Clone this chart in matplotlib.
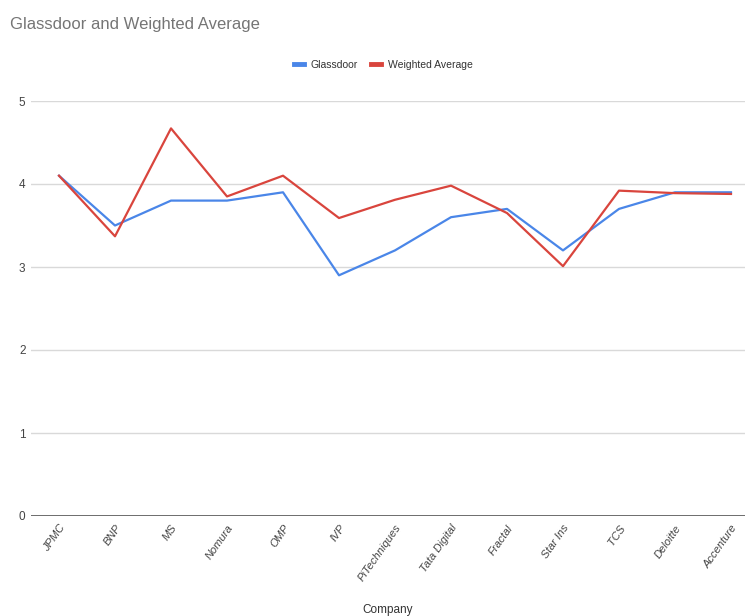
import matplotlib
matplotlib.use("Agg")
import matplotlib.pyplot as plt
import numpy as np

companies = ["JPMC", "BNP", "MS", "Nomura", "OMP", "IVP", "PiTechniques",
             "Tata Digital", "Fractal", "Star Ins", "TCS", "Deloitte", "Accenture"]
glassdoor = [4.1, 3.5, 3.8, 3.8, 3.9, 2.9, 3.2, 3.6, 3.7, 3.2, 3.7, 3.9, 3.9]
weighted = [4.1, 3.37, 4.67, 3.85, 4.1, 3.59, 3.81, 3.98, 3.65, 3.01, 3.92, 3.89, 3.88]
yticks = [0, 1, 2, 3, 4, 5]

plt.rcParams['font.family'] = ['Liberation Sans', 'DejaVu Sans']

fig = plt.figure(figsize=(7.45, 6.16), dpi=100)
ax = fig.add_axes([31 / 745, 100 / 616, 1 - 31 / 745, 415 / 616])

x = np.arange(len(companies))
ax.plot(x, glassdoor, color="#4a86e8", lw=1.6, label="Glassdoor", zorder=3)
ax.plot(x, weighted, color="#d9453d", lw=1.6, label="Weighted Average", zorder=3)

ax.set_xlim(-0.5, 12.25)
ax.set_ylim(0, 5)
ax.set_yticks(yticks)
ax.grid(axis="y", color="#d9d9d9", lw=1)
ax.axhline(0, color="#555555", lw=1.2, zorder=2)
for s in ax.spines.values():
    s.set_visible(False)
ax.tick_params(axis="y", length=0, labelsize=8.5, labelcolor="#444444", pad=4)
ax.tick_params(axis="x", length=0, labelsize=8, labelcolor="#444444", pad=5)
ax.set_xticks(x)
ax.set_xticklabels(companies, rotation=55, ha="right", rotation_mode="anchor",
                   style="italic")

ax.set_xlabel("Company", fontsize=8.5, color="#333333", labelpad=15)
fig.text(10 / 745, 1 - 25 / 616, "Glassdoor and Weighted Average", fontsize=12,
         color="#757575", va="center", ha="left")

leg = ax.legend(loc="center", bbox_to_anchor=(383 / 745, 1 - 65 / 616),
                bbox_transform=fig.transFigure, ncol=2, frameon=False,
                fontsize=7.5, handlelength=1.0, handletextpad=0.6,
                columnspacing=1.3)
for line in leg.get_lines():
    line.set_linewidth(3.5)
for t in leg.get_texts():
    t.set_color("#333333")

fig.savefig("out.png", dpi=100)
